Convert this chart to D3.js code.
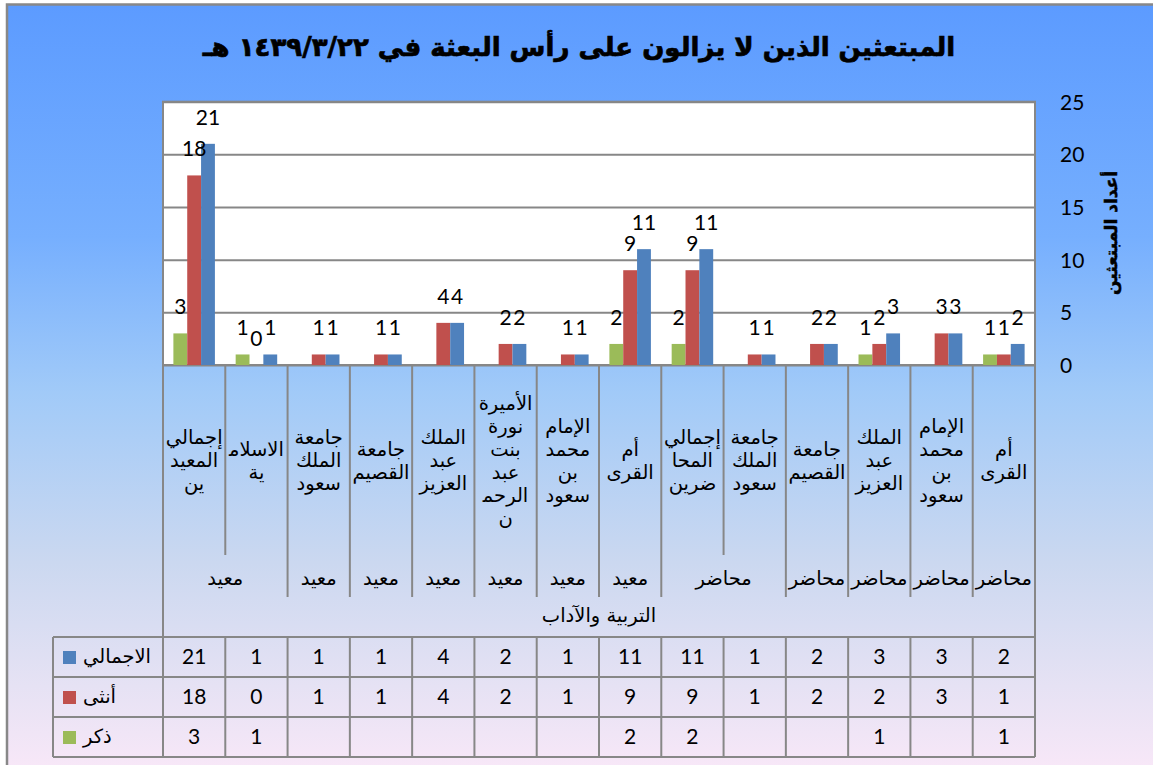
<!DOCTYPE html>
<html>
<head>
<meta charset="utf-8">
<script src="https://cdn.jsdelivr.net/npm/d3@7"></script>
<style>
  html, body { margin: 0; padding: 0; background: #fff; }
  svg { display: block; }
  .ar { font-family: "DejaVu Sans", sans-serif; }
  .num { font-family: Lato, "Open Sans", sans-serif; }
</style>
</head>
<body>
<div id="chart"></div>
<script>
// chart data, categories run left to right as drawn
const categories = [
  "إجمالي\nالمعيد\nين", "الاسلام\u200D\nية", "جامعة\nالملك\nسعود", "جامعة\nالقصيم",
  "الملك\nعبد\nالعزيز", "الأميرة\nنورة\nبنت\nعبد\nالرحم\u200D\nن", "الإمام\nمحمد\nبن\nسعود",
  "أم\nالقرى", "إجمالي\nالمحا\nضرين", "جامعة\nالملك\nسعود", "جامعة\nالقصيم",
  "الملك\nعبد\nالعزيز", "الإمام\nمحمد\nبن\nسعود", "أم\nالقرى"
];
const roleLabels = ["معيد", "معيد", "معيد", "معيد", "معيد", "معيد", "معيد", "محاضر", "محاضر", "محاضر", "محاضر", "محاضر"];
const roleSpans  = [2, 1, 1, 1, 1, 1, 1, 2, 1, 1, 1, 1];
const college = "التربية والآداب";

const seriesNames = ["ذكر", "أنثى", "الاجمالي"];
const male   = [3, 1, null, null, null, null, null, 2, 2, null, null, 1, null, 1];
const female = [18, 0, 1, 1, 4, 2, 1, 9, 9, 1, 2, 2, 3, 1];
const total  = [21, 1, 1, 1, 4, 2, 1, 11, 11, 1, 2, 3, 3, 2];
const yTicks = [0, 5, 10, 15, 20, 25];

const title = "المبتعثين الذين لا يزالون على رأس البعثة في ١٤٣٩/٣/٢٢ هـ";
const yTitle = "أعداد المبتعثين";

const colors = ["#9BBB59", "#C0504D", "#4F81BD"];
const gridColor = "#878787";
const arSize = "19.5px";

const width = 1153, height = 765;
const plot = { l: 163, r: 1035, t: 101.7, b: 365 };
const catBottom = 555, roleBottom = 597, tableTop = 637, rowH = 40, legendLeft = 53;

const svg = d3.select("#chart").append("svg")
  .attr("width", width).attr("height", height);

// background gradient
const defs = svg.append("defs");
const grad = defs.append("linearGradient").attr("id", "bg")
  .attr("x1", 0).attr("y1", 0).attr("x2", 0).attr("y2", 1);
[[0, "#5C9BFF"], [0.3, "#76AFFE"], [0.5, "#A1CAF8"], [0.72, "#CBD8F0"], [0.88, "#E6E2F4"], [1, "#FAE8F8"]]
  .forEach(s => grad.append("stop").attr("offset", s[0]).attr("stop-color", s[1]));

svg.append("rect").attr("x", 0).attr("y", 0).attr("width", width).attr("height", height).attr("fill", "#fff");
svg.append("rect").attr("x", 7).attr("y", 4.5).attr("width", width + 10).attr("height", height + 10)
  .attr("fill", "url(#bg)").attr("stroke", "#888").attr("stroke-width", 2.5);

// title
svg.append("text").attr("class", "ar")
  .attr("x", 579).attr("y", 56)
  .attr("text-anchor", "middle").attr("direction", "rtl")
  .style("font-size", "26px").style("font-weight", "bold")
  .attr("stroke", "#000").attr("stroke-width", 0.7)
  .text(title);

// scales
const idx = d3.range(categories.length);
const x = d3.scaleBand().domain(idx).range([plot.l, plot.r]).paddingInner(0).paddingOuter(0);
const xs = d3.scaleBand().domain(d3.range(3)).range([0, x.bandwidth()]).paddingInner(0).paddingOuter(0.75);
const y = d3.scaleLinear().domain([0, 25]).range([plot.b, plot.t]);

// plot area
svg.append("rect").attr("x", plot.l).attr("y", plot.t)
  .attr("width", plot.r - plot.l).attr("height", plot.b - plot.t).attr("fill", "#fff");

const grid = svg.append("g").attr("transform", `translate(${plot.l},0)`)
  .call(d3.axisLeft(y).tickValues(yTicks).tickSize(-(plot.r - plot.l)).tickFormat(""));
grid.select(".domain").remove();
grid.selectAll("line").attr("stroke", gridColor).attr("stroke-width", 2);

svg.append("rect").attr("x", plot.l).attr("y", plot.t)
  .attr("width", plot.r - plot.l).attr("height", plot.b - plot.t)
  .attr("fill", "none").attr("stroke", gridColor).attr("stroke-width", 2);

// right y axis
const yAxis = svg.append("g").attr("transform", `translate(${plot.r + 25},0)`)
  .call(d3.axisRight(y).tickValues(yTicks).tickSize(0).tickPadding(0));
yAxis.select(".domain").remove();
yAxis.selectAll("text").attr("class", "num").attr("fill", "#000")
  .style("font-size", "21px").attr("dy", "0.35em");

svg.append("text").attr("class", "ar")
  .attr("transform", `translate(1111,233) rotate(-90)`)
  .attr("text-anchor", "middle").attr("direction", "rtl").attr("dy", "0.35em")
  .style("font-size", "17px").style("font-weight", "bold")
  .attr("stroke", "#000").attr("stroke-width", 0.5)
  .text(yTitle);

// bars
const series = [male, female, total];
const barData = [];
series.forEach((vals, s) => vals.forEach((v, i) => { if (v !== null) barData.push({ s, i, v }); }));

svg.append("g").selectAll("rect").data(barData).join("rect")
  .attr("x", d => x(d.i) + xs(d.s))
  .attr("width", xs.bandwidth())
  .attr("y", d => y(d.v))
  .attr("height", d => plot.b - y(d.v))
  .attr("fill", d => colors[d.s]);

svg.append("g").selectAll("text").data(barData).join("text")
  .attr("class", "num")
  .attr("x", d => x(d.i) + xs(d.s) + xs.bandwidth() / 2)
  .attr("y", d => y(d.v) - 19)
  .attr("text-anchor", "middle")
  .style("font-size", "21px")
  .text(d => d.v);

// category labels
const catG = svg.append("g");
categories.forEach((c, i) => {
  const lines = c.split("\n");
  const t = catG.append("text").attr("class", "ar")
    .attr("text-anchor", "middle").attr("direction", "rtl")
    .style("font-size", arSize);
  lines.forEach((ln, k) => {
    t.append("tspan")
      .attr("x", x(i) + x.bandwidth() / 2)
      .attr("y", 460 + (k - (lines.length - 1) / 2) * 23 + 7)
      .text(ln);
  });
});

// divider lines below the plot
const groupEdges = new Set([0]);
let acc = 0;
roleSpans.forEach(s => { acc += s; groupEdges.add(acc); });
d3.range(categories.length + 1).forEach(i => {
  const xx = i === categories.length ? plot.r : x(i);
  let bottom = catBottom;
  if (groupEdges.has(i)) bottom = roleBottom;
  if (i === 0 || i === categories.length) bottom = tableTop;
  if (i === 0) bottom = tableTop + rowH * 3;
  svg.append("line").attr("x1", xx).attr("x2", xx).attr("y1", plot.b).attr("y2", bottom)
    .attr("stroke", gridColor).attr("stroke-width", 2);
});

// role labels
acc = 0;
roleLabels.forEach((r, k) => {
  const x0 = x(acc), x1 = x(acc) + x.bandwidth() * roleSpans[k];
  acc += roleSpans[k];
  svg.append("text").attr("class", "ar")
    .attr("x", (x0 + x1) / 2).attr("y", 585)
    .attr("text-anchor", "middle").attr("direction", "rtl")
    .style("font-size", arSize).text(r);
});

svg.append("text").attr("class", "ar")
  .attr("x", (plot.l + plot.r) / 2).attr("y", 622)
  .attr("text-anchor", "middle").attr("direction", "rtl")
  .style("font-size", arSize).text(college);

// data table
const rows = [total, female, male];
const rowColors = [colors[2], colors[1], colors[0]];
const rowNames = [seriesNames[2], seriesNames[1], seriesNames[0]];
const table = svg.append("g");
rows.forEach((vals, r) => {
  const ty = tableTop + r * rowH;
  table.append("rect").attr("x", 63).attr("y", ty + rowH / 2 - 6).attr("width", 13).attr("height", 13)
    .attr("fill", rowColors[r]);
  table.append("text").attr("class", "ar")
    .attr("x", 83).attr("y", ty + rowH / 2 + 6)
    .attr("text-anchor", "start")
    .style("font-size", arSize).text(rowNames[r]);
  vals.forEach((v, i) => {
    if (v === null) return;
    table.append("text").attr("class", "num")
      .attr("x", x(i) + x.bandwidth() / 2).attr("y", ty + rowH / 2 + 7)
      .attr("text-anchor", "middle").style("font-size", "21px").text(v);
  });
});
d3.range(4).forEach(r => {
  table.append("line").attr("x1", legendLeft).attr("x2", plot.r)
    .attr("y1", tableTop + r * rowH).attr("y2", tableTop + r * rowH)
    .attr("stroke", gridColor).attr("stroke-width", 2);
});
[legendLeft].concat(d3.range(categories.length + 1).map(i => i === categories.length ? plot.r : x(i)))
  .forEach(xx => {
    table.append("line").attr("x1", xx).attr("x2", xx)
      .attr("y1", tableTop).attr("y2", tableTop + rowH * 3)
      .attr("stroke", gridColor).attr("stroke-width", 2);
  });
</script>
</body>
</html>
